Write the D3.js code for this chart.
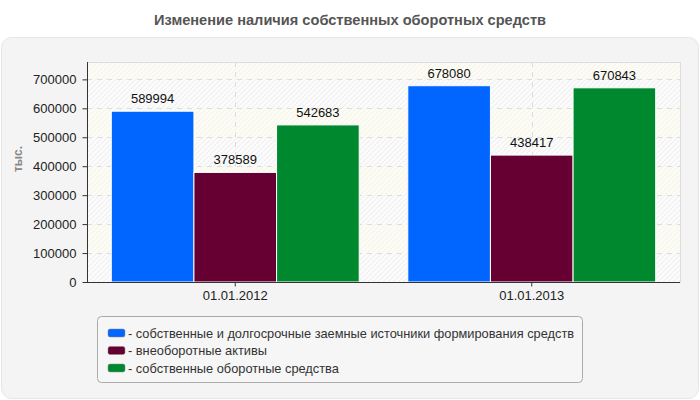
<!DOCTYPE html>
<html>
<head>
<meta charset="utf-8">
<script src="https://cdn.jsdelivr.net/npm/d3@7/dist/d3.min.js"></script>
<style>
  html, body { margin: 0; padding: 0; background: #ffffff; }
  svg { display: block; font-family: "Liberation Sans", Arial, sans-serif; }
</style>
</head>
<body>
<div id="chart"></div>
<script>
// ---- data ----
const categories = ['01.01.2012', '01.01.2013']
const seriesNames = [
  '- собственные и долгосрочные заемные источники формирования средств',
  '- внеоборотные активы',
  '- собственные оборотные средства'
]
const seriesColors = ['#0066ff', '#660033', '#00882f']
const sourcesValues = [589994, 678080]
const fixedAssetsValues = [378589, 438417]
const workingCapitalValues = [542683, 670843]
const yTicks = [0, 100000, 200000, 300000, 400000, 500000, 600000, 700000]
const yMax = 760000

const seriesValues = [sourcesValues, fixedAssetsValues, workingCapitalValues]

const width = 700
const height = 400
const margin = { top: 62, right: 20, bottom: 118, left: 87 }
const plotBottom = height - margin.bottom
const plotRight = width - margin.right

const svg = d3.select('#chart').append('svg')
  .attr('width', width).attr('height', height)

// hatch patterns for the plot background bands
const defs = svg.append('defs')
function hatch(id, bg, line) {
  const p = defs.append('pattern')
    .attr('id', id).attr('patternUnits', 'userSpaceOnUse')
    .attr('width', 5).attr('height', 5)
  p.append('rect').attr('width', 5).attr('height', 5).attr('fill', bg)
  p.append('path').attr('d', 'M-1,1 l2,-2 M0,5 l5,-5 M4,6 l2,-2')
    .attr('stroke', line).attr('stroke-width', 1)
}
hatch('hatchCream', '#fcfcf4', '#f3f3eb')
hatch('hatchGray', '#fbfbfb', '#ededed')

// outer panel
svg.append('rect')
  .attr('x', 1.5).attr('y', 37.5).attr('width', 697).attr('height', 361)
  .attr('rx', 10).attr('ry', 10)
  .attr('fill', '#f4f4f4').attr('stroke', '#e6e6e6')

// title
svg.append('text')
  .attr('x', 350).attr('y', 25)
  .attr('text-anchor', 'middle')
  .attr('font-size', '14.6px').attr('font-weight', 'bold')
  .attr('fill', '#555555')
  .text('Изменение наличия собственных оборотных средств')

// scales
const x = d3.scaleBand().domain(categories).range([margin.left, plotRight]).padding(0)
const xInner = d3.scaleBand().domain(d3.range(seriesNames.length))
  .range([0, x.bandwidth()]).paddingInner(0).paddingOuter(0.294)
const y = d3.scaleLinear().domain([0, yMax]).range([plotBottom, margin.top])

// background bands between gridlines
const bandEdges = [yMax, ...yTicks.slice().reverse()]
const bandPairs = d3.pairs(bandEdges)
svg.append('g').selectAll('rect').data(bandPairs).join('rect')
  .attr('x', margin.left).attr('width', plotRight - margin.left)
  .attr('y', d => y(d[0])).attr('height', d => y(d[1]) - y(d[0]))
  .attr('fill', (d, i) => i % 2 === 0 ? 'url(#hatchCream)' : 'url(#hatchGray)')

// plot frame (top/right)
svg.append('rect')
  .attr('x', margin.left + 0.5).attr('y', margin.top + 0.5)
  .attr('width', plotRight - margin.left).attr('height', plotBottom - margin.top)
  .attr('fill', 'none').attr('stroke', '#dddddd')

// gridlines
svg.append('g').selectAll('line').data(yTicks.filter(d => d > 0)).join('line')
  .attr('x1', margin.left).attr('x2', plotRight)
  .attr('y1', d => Math.round(y(d)) + 0.5).attr('y2', d => Math.round(y(d)) + 0.5)
  .attr('stroke', '#dddddd').attr('stroke-dasharray', '5,5')
svg.append('g').selectAll('line').data(categories).join('line')
  .attr('x1', d => Math.round(x(d) + x.bandwidth() / 2) + 0.5)
  .attr('x2', d => Math.round(x(d) + x.bandwidth() / 2) + 0.5)
  .attr('y1', margin.top).attr('y2', plotBottom)
  .attr('stroke', '#dddddd').attr('stroke-dasharray', '5,5')

// bars
const rows = []
categories.forEach((c, ci) => {
  seriesValues.forEach((vals, si) => rows.push({ cat: c, s: si, v: vals[ci] }))
})
const barsG = svg.append('g')
barsG.selectAll('rect').data(rows).join('rect')
  .attr('x', d => x(d.cat) + xInner(d.s))
  .attr('y', d => y(d.v))
  .attr('width', xInner.bandwidth())
  .attr('height', d => plotBottom - y(d.v))
  .attr('fill', d => seriesColors[d.s])
  .attr('stroke', '#ffffff').attr('stroke-width', 1)

// value labels
svg.append('g').selectAll('text').data(rows).join('text')
  .attr('x', d => x(d.cat) + xInner(d.s) + xInner.bandwidth() / 2)
  .attr('y', d => y(d.v) - 8)
  .attr('text-anchor', 'middle')
  .attr('font-size', '13px').attr('fill', '#111111')
  .text(d => d.v)

// axes
const yAxis = svg.append('g')
  .attr('transform', `translate(${margin.left + 0.5},0)`)
  .call(d3.axisLeft(y).tickValues(yTicks).tickSize(5).tickPadding(6).tickFormat(d3.format('d')))
yAxis.select('.domain').attr('stroke', '#333333').attr('d', `M0,${margin.top}V${plotBottom}`)
yAxis.selectAll('.tick line').attr('stroke', '#333333')
yAxis.selectAll('.tick text')
  .attr('font-size', '13px').attr('fill', '#222222')
  .attr('font-family', '"Liberation Sans", Arial, sans-serif')

const xAxis = svg.append('g')
  .attr('transform', `translate(0,${plotBottom + 0.5})`)
  .call(d3.axisBottom(x).tickSize(4).tickPadding(4))
xAxis.select('.domain').attr('stroke', '#333333').attr('d', `M${margin.left},0H${plotRight}`)
xAxis.selectAll('.tick line').attr('stroke', '#333333')
xAxis.selectAll('.tick text')
  .attr('font-size', '13px').attr('fill', '#222222')
  .attr('font-family', '"Liberation Sans", Arial, sans-serif')

// y axis title
svg.append('text')
  .attr('transform', `translate(22,159) rotate(-90)`)
  .attr('text-anchor', 'middle')
  .attr('font-size', '12px').attr('font-weight', 'bold')
  .attr('fill', '#888888')
  .text('тыс.')

// legend
const legend = svg.append('g')
legend.append('rect')
  .attr('x', 97.5).attr('y', 316.5).attr('width', 485).attr('height', 66)
  .attr('rx', 4).attr('ry', 4)
  .attr('fill', '#f6f6f6').attr('stroke', '#aaaaaa')
const legendItems = legend.selectAll('g.item').data(seriesNames).join('g')
  .attr('class', 'item')
  .attr('transform', (d, i) => `translate(108,${333 + i * 17.5})`)
legendItems.append('rect')
  .attr('x', 0).attr('y', -4).attr('width', 17).attr('height', 8)
  .attr('rx', 2).attr('ry', 2)
  .attr('fill', (d, i) => seriesColors[i])
  .attr('stroke', '#888888').attr('stroke-width', 0.5)
legendItems.append('text')
  .attr('x', 20).attr('y', 4.5)
  .attr('font-size', '12.8px').attr('fill', '#333333')
  .text(d => d)
</script>
</body>
</html>
